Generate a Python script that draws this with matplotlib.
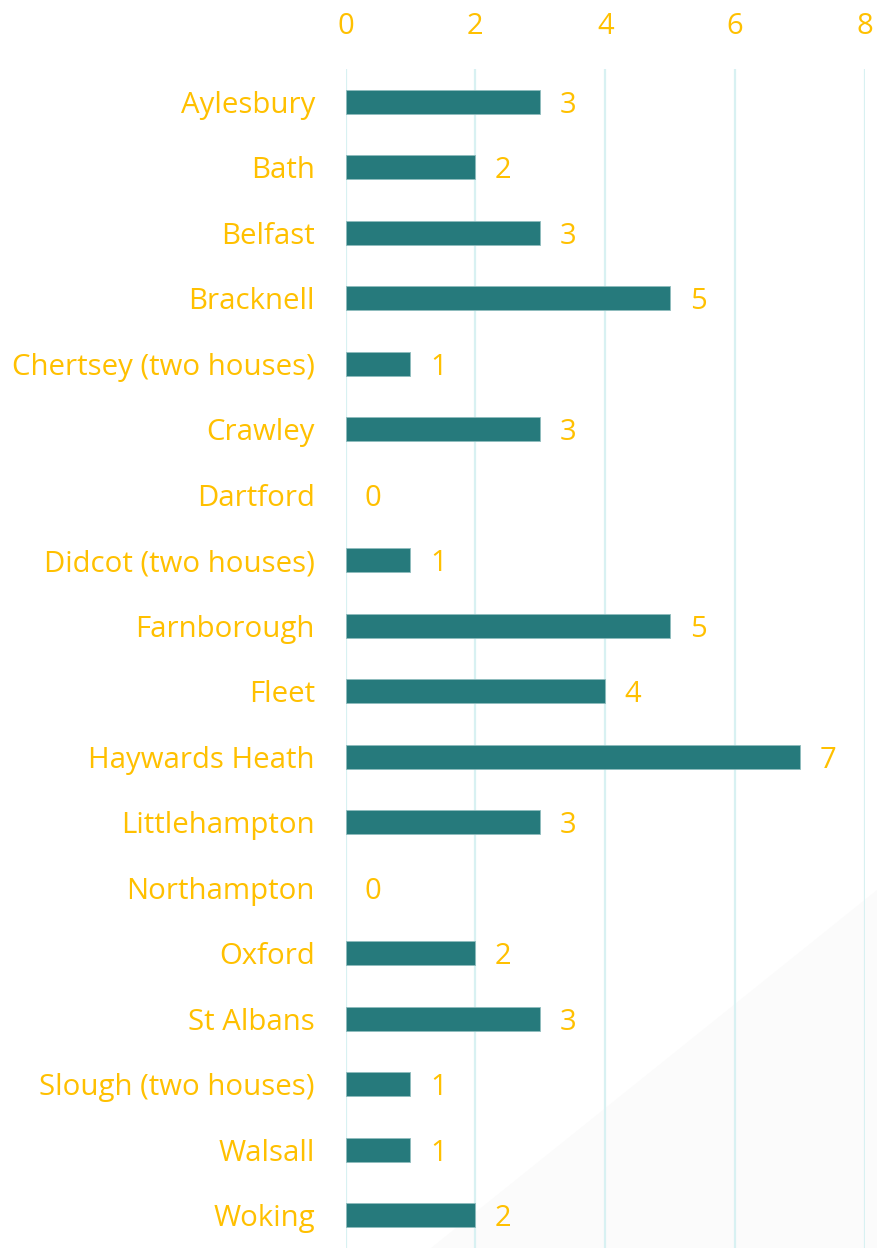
import matplotlib
matplotlib.use("Agg")
import matplotlib.pyplot as plt
from matplotlib.patches import Polygon

towns = ["Aylesbury", "Bath", "Belfast", "Bracknell", "Chertsey (two houses)",
         "Crawley", "Dartford", "Didcot (two houses)", "Farnborough", "Fleet",
         "Haywards Heath", "Littlehampton", "Northampton", "Oxford", "St Albans",
         "Slough (two houses)", "Walsall", "Woking"]
counts = [3, 2, 3, 5, 1, 3, 0, 1, 5, 4, 7, 3, 0, 2, 3, 1, 1, 2]
x_ticks = [0, 2, 4, 6, 8]

bar_color = "#267a7c"
text_color = "#ffc000"
grid_color = "#d8f1f2"

plt.rcParams['font.family'] = ['Open Sans', 'DejaVu Sans']

fig = plt.figure(figsize=(8.77, 12.48), dpi=100)

# faint decorative shape in the lower right corner, behind everything
bg = Polygon([(431 / 877, 0), (1, 0), (1, 1 - 890 / 1248)], closed=True,
             transform=fig.transFigure, facecolor="#fbfbfb", edgecolor="none", zorder=-1)
fig.patches.append(bg)

ax = fig.add_axes([345.5 / 877, 0, (865 - 345.5) / 877, 1 - 69 / 1248])
ax.set_facecolor("none")

ypos = list(range(len(towns)))
ax.barh(ypos, counts, height=0.36, color=bar_color, edgecolor="#8fbcbd",
        linewidth=[0.6 if v > 0 else 0 for v in counts], zorder=3)

for y, v in zip(ypos, counts):
    ax.annotate(str(v), (v, y), xytext=(14, 0), textcoords="offset points",
                ha="left", va="center_baseline", color=text_color, fontsize=21)

ax.set_xlim(0, 8)
ax.set_ylim(len(towns) - 0.5, -0.5)
ax.set_xticks(x_ticks)
ax.set_yticks(ypos)
ax.set_yticklabels(towns)
ax.xaxis.tick_top()
ax.tick_params(axis="x", length=0, pad=20.5, labelsize=21, labelcolor=text_color)
ax.tick_params(axis="y", length=0, pad=22, labelsize=21.2, labelcolor=text_color)
ax.grid(axis="x", color=grid_color, linewidth=1.6, zorder=0)
ax.set_axisbelow(True)
for s in ax.spines.values():
    s.set_visible(False)

fig.savefig("out.png", dpi=100)
